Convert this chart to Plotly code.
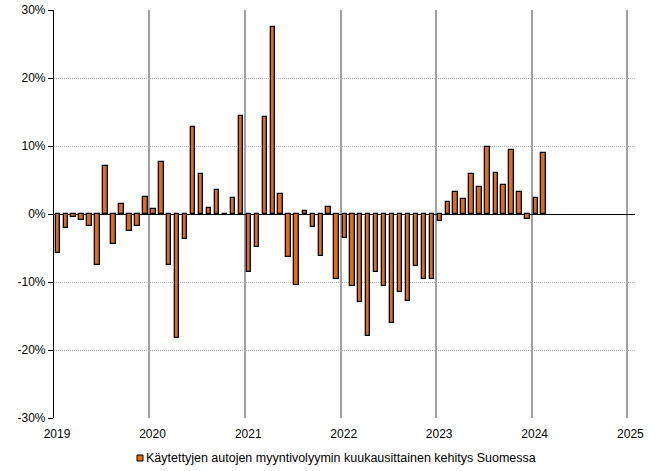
import pandas as pd
import plotly.graph_objects as go

# Monthly change in used-car sales volume in Finland, %, Jan 2019 - Feb 2024
months = pd.date_range("2019-01-01", periods=62, freq="MS")
change_2019 = [-5.8, -2.0, -0.4, -0.9, -1.8, -7.5, 7.1, -4.4, 1.4, -2.5, -1.8, 2.5]
change_2020 = [0.7, 7.7, -7.5, -18.3, -3.7, 12.8, 5.9, 0.9, 3.6, -0.1, 2.3, 14.4]
change_2021 = [-8.6, -4.8, 14.2, 27.5, 3.0, -6.3, -10.4, 0.4, -1.9, -6.2, 1.1, -9.5]
change_2022 = [-3.6, -10.6, -12.9, -17.9, -8.5, -10.6, -16.0, -11.4, -12.8, -7.6, -9.6, -9.5]
change_2023 = [-1.0, 1.8, 3.3, 2.2, 5.9, 3.9, 9.8, 6.0, 4.2, 9.4, 3.2, -0.7]
change_2024 = [2.4, 8.9]
values = change_2019 + change_2020 + change_2021 + change_2022 + change_2023 + change_2024

year_ticks = [f"{y}-01-01" for y in range(2019, 2026)]
year_labels = [str(y) for y in range(2019, 2026)]
y_ticks = [-30, -20, -10, 0, 10, 20, 30]
y_labels = [f"{v}%" for v in y_ticks]

series_name = "Käytettyjen autojen myyntivolyymin kuukausittainen kehitys Suomessa"
bar_color = "#E46C0A"

W, H = 659, 471
ML, MR, MT, MB = 54, 24, 10, 53
plot_w, plot_h = W - ML - MR, H - MT - MB


def px_x(px):
    return (px - ML) / plot_w


def px_y(py):
    return (H - MB - py) / plot_h


fig = go.Figure()
fig.add_trace(go.Bar(
    x=months,
    y=values,
    xperiod="M1",
    xperiodalignment="middle",
    width=0.55 * 30.44 * 24 * 3600 * 1000,
    marker=dict(color=bar_color, line=dict(color="black", width=1.3)),
    name=series_name,
    showlegend=False,
))

fig.update_layout(
    width=W, height=H,
    margin=dict(l=ML, r=MR, t=MT, b=MB, autoexpand=False),
    paper_bgcolor="white",
    plot_bgcolor="white",
    font=dict(family="Liberation Sans, Arial, sans-serif", size=12, color="black"),
    showlegend=False,
    bargap=0,
)

# legend key: small bordered square followed by the series name
key_x0, key_y0 = 137, 455
fig.add_shape(
    type="rect", xref="paper", yref="paper",
    x0=px_x(key_x0), x1=px_x(key_x0 + 6),
    y0=px_y(key_y0 + 6), y1=px_y(key_y0),
    fillcolor=bar_color, line=dict(color="black", width=1),
)
fig.add_annotation(
    xref="paper", yref="paper",
    x=px_x(key_x0 + 7), y=px_y(key_y0 + 3),
    xanchor="left", yanchor="middle",
    text=series_name, showarrow=False,
    font=dict(size=12.5, color="black"),
)

fig.update_xaxes(
    type="date",
    range=["2019-01-01", "2025-01-30"],
    tickvals=year_ticks,
    ticktext=year_labels,
    showgrid=True,
    gridcolor="#A0A0A0",
    gridwidth=2,
    showline=False,
    ticks="",
    ticklabelstandoff=7,
    ticklabelshift=3,
    zeroline=False,
    automargin=False,
    tickfont=dict(size=12),
)
fig.update_yaxes(
    range=[-30, 30],
    tickmode="array",
    tickvals=y_ticks,
    ticktext=y_labels,
    showgrid=True,
    gridcolor="#B4B4B4",
    gridwidth=1,
    griddash="1px,1px",
    zeroline=True,
    zerolinecolor="black",
    zerolinewidth=1.2,
    showline=True,
    linecolor="black",
    linewidth=1.2,
    ticks="outside",
    ticklen=5,
    tickcolor="black",
    automargin=False,
    tickfont=dict(size=12),
)

fig.write_html("out.html")
